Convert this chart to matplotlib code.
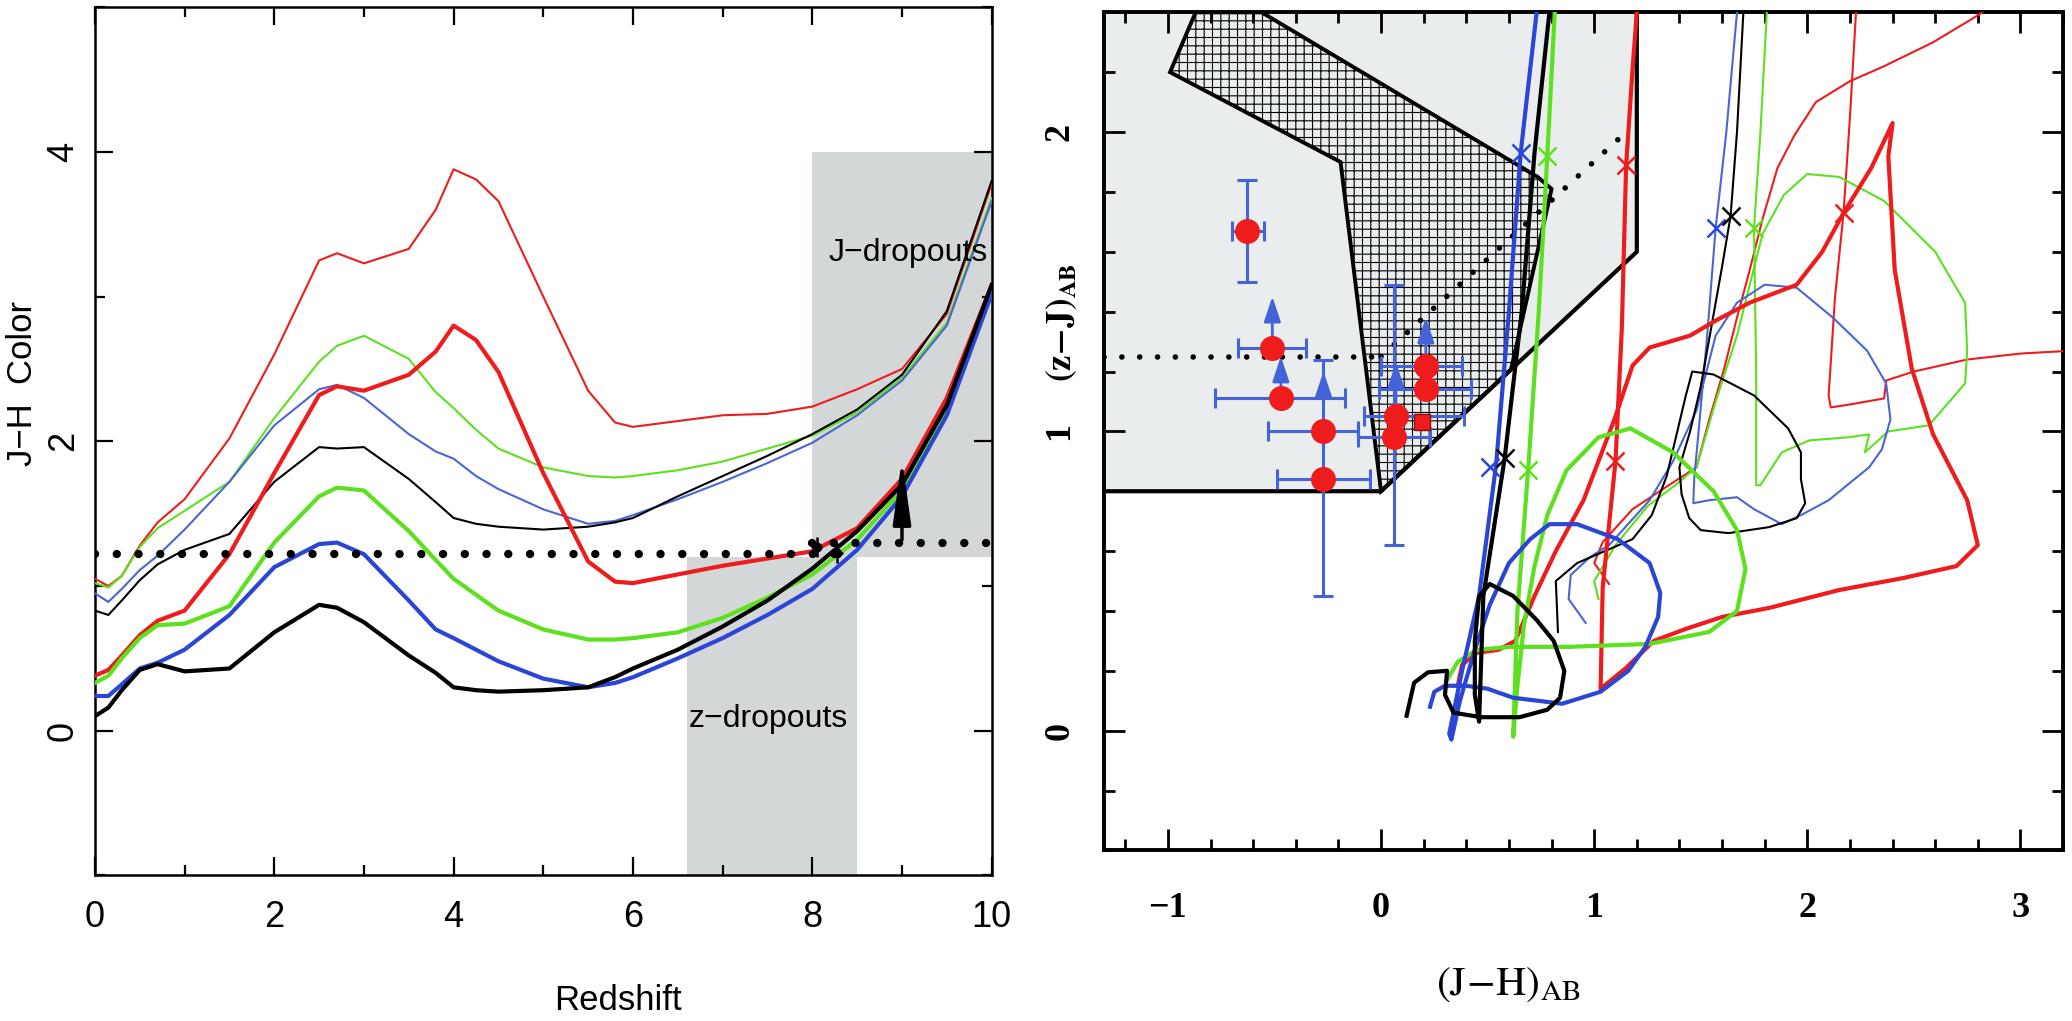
import numpy as np
import matplotlib
matplotlib.use('Agg')
import matplotlib.pyplot as plt
from matplotlib.patches import Polygon
from matplotlib.ticker import MultipleLocator

plt.rcParams['font.family'] = ['Liberation Sans Narrow', 'Liberation Sans', 'DejaVu Sans']
plt.rcParams['mathtext.fontset'] = 'stix'
plt.rcParams['hatch.linewidth'] = 0.8

RED = '#ee1c1c'
GREEN = '#5de01e'
BLUE = '#2b45d6'
BLUE_THIN = '#4a66d4'
ERR_BLUE = '#4563d8'
GRAY_L = '#d3d7d7'
GRAY_R = '#e9eded'

# ---------------- left panel: colour vs redshift ----------------
redshift = [0, 0.15, 0.3, 0.5, 0.7, 1.0, 1.5, 2.0, 2.5, 2.7, 3.0, 3.5, 3.8, 4.0,
            4.25, 4.5, 5.0, 5.5, 5.8, 6.0, 6.5, 7.0, 7.5, 8.0, 8.5, 9.0, 9.5, 10.0]
thin_red = [1.05, 1.00, 1.07, 1.28, 1.44, 1.60, 2.02, 2.60, 3.25, 3.30, 3.23, 3.33, 3.60, 3.88,
            3.81, 3.66, 3.00, 2.35, 2.13, 2.10, 2.14, 2.18, 2.19, 2.24, 2.36, 2.50, 2.88, 3.78]
thin_green = [1.02, 0.99, 1.07, 1.27, 1.40, 1.52, 1.72, 2.16, 2.55, 2.66, 2.73, 2.57, 2.34, 2.23,
              2.08, 1.95, 1.82, 1.76, 1.75, 1.76, 1.80, 1.86, 1.95, 2.04, 2.20, 2.44, 2.82, 3.68]
thin_blue = [0.95, 0.89, 0.98, 1.11, 1.21, 1.39, 1.72, 2.11, 2.36, 2.39, 2.30, 2.05, 1.93, 1.88,
             1.76, 1.67, 1.53, 1.43, 1.45, 1.49, 1.60, 1.72, 1.85, 1.99, 2.18, 2.42, 2.80, 3.66]
thin_black = [0.83, 0.80, 0.90, 1.04, 1.15, 1.25, 1.36, 1.72, 1.96, 1.95, 1.96, 1.74, 1.58, 1.47,
              1.43, 1.41, 1.39, 1.41, 1.44, 1.47, 1.62, 1.76, 1.90, 2.05, 2.22, 2.46, 2.90, 3.80]
thick_red = [0.38, 0.42, 0.52, 0.66, 0.76, 0.83, 1.22, 1.78, 2.32, 2.38, 2.35, 2.46, 2.62, 2.80,
             2.70, 2.48, 1.78, 1.17, 1.03, 1.02, 1.08, 1.14, 1.19, 1.24, 1.40, 1.74, 2.30, 3.08]
thick_green = [0.33, 0.38, 0.50, 0.64, 0.73, 0.74, 0.86, 1.30, 1.62, 1.68, 1.66, 1.38, 1.18, 1.05,
               0.94, 0.83, 0.70, 0.63, 0.63, 0.64, 0.68, 0.78, 0.92, 1.08, 1.32, 1.66, 2.20, 3.05]
thick_blue = [0.24, 0.24, 0.32, 0.43, 0.47, 0.56, 0.80, 1.13, 1.29, 1.30, 1.22, 0.90, 0.70, 0.64,
              0.56, 0.48, 0.36, 0.30, 0.33, 0.37, 0.50, 0.64, 0.80, 0.98, 1.25, 1.62, 2.18, 3.02]
thick_black = [0.10, 0.16, 0.28, 0.42, 0.46, 0.41, 0.43, 0.68, 0.87, 0.85, 0.75, 0.52, 0.40, 0.30,
               0.28, 0.27, 0.28, 0.30, 0.37, 0.43, 0.56, 0.72, 0.90, 1.12, 1.38, 1.70, 2.25, 3.08]

z_cut, z_cut_range = 1.22, (0.0, 8.3)
j_cut, j_cut_range = 1.3, (8.0, 10.0)
z_window = (6.6, 8.5, -1.0, 1.2)
j_window = (8.0, 10.0, 1.2, 4.0)
limit_z, limit_lo, limit_dot, limit_hi = 9.0, 1.3, 1.52, 1.9
cand_z, cand_c = [8.05, 8.28], [1.27, 1.23]

# ---------------- right panel: colour-colour diagram ----------------
sel_region = [(-1.3, 0.8), (0.0, 0.8), (1.2, 1.6), (1.2, 2.4), (-1.3, 2.4)]
hatch_region = [(-0.87, 2.4), (-0.56, 2.4), (0.735, 1.85), (0.80, 1.81), (0.61, 1.207),
                (0.0, 0.8), (-0.19, 1.90), (-0.99, 2.20)]
cut_h = ([-1.3, 0.0], [1.25, 1.25])
cut_d = ([0.0, 1.15], [1.25, 2.0])

tk_red_x = [0.36, 0.38, 0.45, 0.55, 0.63, 0.72, 0.82, 0.95, 1.02, 1.10, 1.18, 1.26, 1.45, 1.57,
            1.73, 1.95, 2.07, 2.17, 2.30, 2.40, 2.38, 2.41, 2.49, 2.59, 2.75, 2.80, 2.70, 2.45,
            2.15, 1.82, 1.60, 1.43, 1.28, 1.15, 1.03, 1.04, 1.10, 1.13, 1.15, 1.18, 1.20]
tk_red_y = [0.15, 0.22, 0.26, 0.27, 0.30, 0.45, 0.60, 0.77, 0.90, 1.05, 1.22, 1.28, 1.32, 1.37,
            1.43, 1.49, 1.60, 1.73, 1.88, 2.03, 1.92, 1.54, 1.21, 0.99, 0.77, 0.62, 0.55, 0.51,
            0.47, 0.41, 0.38, 0.34, 0.30, 0.21, 0.14, 0.48, 0.90, 1.35, 1.89, 2.21, 2.40]
tn_red_x = [1.07, 1.00, 1.04, 1.18, 1.35, 1.48, 1.54, 1.61, 1.67, 1.73, 1.79, 1.86, 1.94, 2.04,
            2.20, 2.36, 2.59, 2.80, 2.86]
tn_red_y = [0.49, 0.56, 0.63, 0.74, 0.82, 0.88, 1.04, 1.21, 1.38, 1.54, 1.71, 1.88, 1.99, 2.10,
            2.17, 2.22, 2.30, 2.39, 2.42]
tn_red2_x = [3.25, 3.00, 2.75, 2.50, 2.37, 2.36, 2.20, 2.11, 2.10, 2.13, 2.17, 2.20, 2.23]
tn_red2_y = [1.27, 1.26, 1.24, 1.20, 1.17, 1.11, 1.09, 1.08, 1.12, 1.45, 1.73, 2.05, 2.42]
tk_grn_x = [0.31, 0.36, 0.45, 0.60, 0.88, 1.26, 1.54, 1.67, 1.71, 1.67, 1.56, 1.37, 1.17, 1.02,
            0.87, 0.78, 0.72, 0.67, 0.64, 0.62, 0.64, 0.69, 0.74, 0.78, 0.815]
tk_grn_y = [0.17, 0.23, 0.27, 0.28, 0.28, 0.29, 0.33, 0.40, 0.54, 0.67, 0.80, 0.93, 1.01, 0.98,
            0.87, 0.72, 0.55, 0.35, 0.15, -0.02, 0.40, 0.87, 1.40, 1.92, 2.40]
tn_grn_x = [1.02, 1.00, 1.10, 1.25, 1.38, 1.48, 1.57, 1.67, 1.73, 1.79, 1.89, 2.00, 2.15, 2.36,
            2.60, 2.74, 2.75, 2.74, 2.57, 2.38, 2.27, 2.29, 2.19, 2.01, 1.88, 1.78, 1.76, 1.76,
            1.75, 1.78, 1.81]
tn_grn_y = [0.44, 0.50, 0.62, 0.75, 0.82, 0.88, 1.10, 1.32, 1.49, 1.66, 1.79, 1.86, 1.85, 1.77,
            1.60, 1.43, 1.27, 1.16, 1.02, 1.00, 0.93, 0.99, 0.98, 0.97, 0.93, 0.82, 0.82, 1.20,
            1.68, 2.00, 2.40]
tk_blu_x = [0.23, 0.25, 0.30, 0.40, 0.50, 0.62, 0.85, 1.03, 1.16, 1.24, 1.30, 1.31, 1.26, 1.11,
            0.92, 0.79, 0.70, 0.60, 0.51, 0.44, 0.37, 0.33, 0.32, 0.38, 0.46, 0.54, 0.60, 0.655,
            0.73]
tk_blu_y = [0.08, 0.13, 0.15, 0.15, 0.14, 0.11, 0.09, 0.13, 0.20, 0.28, 0.38, 0.46, 0.56, 0.64,
            0.69, 0.69, 0.64, 0.56, 0.42, 0.27, 0.10, -0.03, -0.01, 0.20, 0.45, 0.89, 1.40, 1.93,
            2.40]
tn_blu_x = [0.96, 0.88, 0.89, 0.98, 1.07, 1.26, 1.37, 1.48, 1.57, 1.67, 1.80, 1.95, 2.12, 2.28,
            2.37, 2.39, 2.35, 2.29, 2.10, 1.97, 1.88, 1.75, 1.67, 1.54, 1.465, 1.47, 1.49, 1.53,
            1.57, 1.62, 1.67]
tn_blu_y = [0.36, 0.44, 0.52, 0.58, 0.62, 0.77, 0.90, 1.07, 1.32, 1.43, 1.49, 1.48, 1.38, 1.27,
            1.16, 1.04, 0.94, 0.88, 0.77, 0.72, 0.69, 0.74, 0.78, 0.77, 0.76, 0.85, 1.00, 1.32,
            1.68, 2.00, 2.40]
tk_blk_x = [0.12, 0.155, 0.22, 0.31, 0.30, 0.34, 0.47, 0.65, 0.78, 0.84, 0.86, 0.81, 0.73, 0.62,
            0.51, 0.46, 0.44, 0.44, 0.46, 0.48, 0.58, 0.66, 0.72, 0.79]
tk_blk_y = [0.05, 0.16, 0.195, 0.20, 0.12, 0.06, 0.045, 0.045, 0.07, 0.11, 0.20, 0.30, 0.37, 0.45,
            0.49, 0.45, 0.30, 0.12, 0.03, 0.45, 0.91, 1.40, 1.93, 2.40]
tn_blk_x = [0.83, 0.82, 0.92, 1.05, 1.18, 1.27, 1.34, 1.39, 1.43, 1.46, 1.56, 1.75, 1.91, 1.97,
            1.97, 1.99, 1.95, 1.82, 1.63, 1.50, 1.446, 1.41, 1.40, 1.45, 1.50, 1.55, 1.60, 1.64,
            1.67, 1.70]
tn_blk_y = [0.33, 0.50, 0.56, 0.60, 0.64, 0.72, 0.85, 1.00, 1.12, 1.20, 1.19, 1.12, 1.01, 0.93,
            0.84, 0.76, 0.71, 0.68, 0.66, 0.67, 0.71, 0.79, 0.88, 1.00, 1.15, 1.35, 1.55, 1.72,
            2.00, 2.40]

star_x = [0.655, 0.51, 1.57, 0.78, 0.69, 1.75, 0.58, 1.64, 1.15, 1.10, 2.17]
star_y = [1.93, 0.88, 1.68, 1.92, 0.87, 1.68, 0.91, 1.72, 1.89, 0.90, 1.73]
star_c = [BLUE, BLUE, BLUE, GREEN, GREEN, GREEN, 'k', 'k', RED, RED, RED]

# observed sources
pt_x = [-0.63, -0.51, -0.47, -0.27, -0.27, 0.06, 0.07, 0.21, 0.21]
pt_y = [1.67, 1.28, 1.11, 1.00, 0.84, 0.98, 1.05, 1.14, 1.22]
pt_xlo = [-0.70, -0.67, -0.78, -0.53, -0.49, -0.11, -0.08, -0.01, 0.00]
pt_xhi = [-0.55, -0.35, -0.17, -0.11, -0.05, 0.23, 0.39, 0.42, 0.38]
pt_ylo = [1.50, np.nan, np.nan, np.nan, 0.45, 0.62, np.nan, np.nan, np.nan]
pt_yhi = [1.84, np.nan, np.nan, np.nan, 1.24, 1.49, np.nan, np.nan, np.nan]
pt_lim = [np.nan, 1.46, 1.26, 1.21, np.nan, np.nan, 1.24, np.nan, 1.39]
sq_x, sq_y = [0.19], [1.03]

# ================= figure =================
fig = plt.figure(figsize=(20.72, 10.21), dpi=100)
ax1 = fig.add_axes([0.0458, 0.1426, 0.4328, 0.8503])
ax2 = fig.add_axes([0.5328, 0.1671, 0.4629, 0.8208])

# ---- left ----
x0, x1, y0, y1 = z_window
ax1.fill_between([x0, x1], y0, y1, color=GRAY_L, lw=0, zorder=0)
x0, x1, y0, y1 = j_window
ax1.fill_between([x0, x1], y0, y1, color=GRAY_L, lw=0, zorder=0)

thin = [(thin_red, RED), (thin_green, GREEN), (thin_blue, BLUE_THIN), (thin_black, 'k')]
thick = [(thick_red, RED), (thick_green, GREEN), (thick_blue, BLUE), (thick_black, 'k')]
for vals, c in thin:
    ax1.plot(redshift, vals, color=c, lw=1.5, zorder=3)
for vals, c in thick:
    ax1.plot(redshift, vals, color=c, lw=3.0, zorder=4)

ax1.plot(z_cut_range, [z_cut, z_cut], color='k', lw=6, ls=(0, (0.01, 2.6)),
         dash_capstyle='round', zorder=5)
ax1.plot(j_cut_range, [j_cut, j_cut], color='k', lw=6, ls=(0, (0.01, 2.6)),
         dash_capstyle='round', zorder=5)
ax1.annotate('', xy=(limit_z, limit_hi), xytext=(limit_z, limit_lo),
             arrowprops=dict(arrowstyle='-|>,head_length=1.8,head_width=0.25',
                             color='k', lw=2.5, mutation_scale=22), zorder=6)
ax1.plot([limit_z], [limit_dot], 'o', color='k', ms=7, zorder=6)
ax1.errorbar(cand_z, cand_c, xerr=0.06, yerr=0.07, fmt='o', color='k', ms=6,
             lw=1.8, zorder=6)

ax1.text(8.18, 3.30, 'J\u2212dropouts', fontsize=23, va='center', ha='left', zorder=7)
ax1.text(6.62, 0.08, 'z\u2212dropouts', fontsize=23, va='center', ha='left', zorder=7)

ax1.set_xlim(0, 10)
ax1.set_ylim(-1, 5)
ax1.set_xticks([0, 2, 4, 6, 8, 10])
ax1.set_xticklabels(['0', '2', '4', '6', '8', '10'])
ax1.set_yticks([0, 2, 4])
ax1.set_yticklabels(['0', '2', '4'], rotation=90, va='center')
ax1.xaxis.set_minor_locator(MultipleLocator(1))
ax1.yaxis.set_minor_locator(MultipleLocator(1))
ax1.tick_params(which='both', direction='in', top=True, right=True, width=1.6, labelsize=26)
ax1.tick_params(which='major', length=13)
ax1.tick_params(which='minor', length=7)
ax1.tick_params(axis='x', pad=18)
ax1.tick_params(axis='y', pad=10)
for s in ax1.spines.values():
    s.set_linewidth(1.8)
ax1.set_xlabel('Redshift', fontsize=25, va='center')
ax1.xaxis.set_label_coords(0.583, -0.144)
ax1.set_ylabel('J\u2212H  Color', fontsize=25, va='center')
ax1.yaxis.set_label_coords(-0.081, 0.567)

# ---- right ----
ax2.add_patch(Polygon(sel_region, closed=True, facecolor=GRAY_R, edgecolor='none', zorder=0))
ax2.add_patch(Polygon(hatch_region, closed=True, facecolor=GRAY_R, edgecolor='k',
                      hatch='++', lw=2.8, zorder=1))
sx = [p[0] for p in sel_region[:4]]
sy = [p[1] for p in sel_region[:4]]
ax2.plot(sx, sy, color='k', lw=3, zorder=2)
ax2.plot(cut_h[0], cut_h[1], color='k', lw=4, ls=(0, (0.01, 3.2)), dash_capstyle='round', zorder=2)
ax2.plot(cut_d[0], cut_d[1], color='k', lw=4, ls=(0, (0.01, 3.2)), dash_capstyle='round', zorder=2)

for tx, ty, c in [(tn_red_x, tn_red_y, RED), (tn_red2_x, tn_red2_y, RED),
                  (tn_grn_x, tn_grn_y, GREEN), (tn_blu_x, tn_blu_y, BLUE_THIN),
                  (tn_blk_x, tn_blk_y, 'k')]:
    ax2.plot(tx, ty, color=c, lw=1.5, zorder=3)
for tx, ty, c in [(tk_red_x, tk_red_y, RED), (tk_grn_x, tk_grn_y, GREEN),
                  (tk_blu_x, tk_blu_y, BLUE), (tk_blk_x, tk_blk_y, 'k')]:
    ax2.plot(tx, ty, color=c, lw=3.0, zorder=3)
for sxx, syy, c in zip(star_x, star_y, star_c):
    ax2.plot([sxx], [syy], marker='x', color=c, ms=13, mew=1.8, zorder=4)

for i in range(len(pt_x)):
    xe = [[pt_x[i] - pt_xlo[i]], [pt_xhi[i] - pt_x[i]]]
    if np.isnan(pt_ylo[i]):
        ax2.errorbar([pt_x[i]], [pt_y[i]], xerr=xe, fmt='none', ecolor=ERR_BLUE,
                     elinewidth=2.2, capsize=7, capthick=2.2, zorder=5)
    else:
        ye = [[pt_y[i] - pt_ylo[i]], [pt_yhi[i] - pt_y[i]]]
        ax2.errorbar([pt_x[i]], [pt_y[i]], xerr=xe, yerr=ye, fmt='none', ecolor=ERR_BLUE,
                     elinewidth=2.2, capsize=7, capthick=2.2, zorder=5)
    if not np.isnan(pt_lim[i]):
        ax2.annotate('', xy=(pt_x[i], pt_lim[i]), xytext=(pt_x[i], pt_y[i]),
                     arrowprops=dict(arrowstyle='-|>,head_length=0.9,head_width=0.3',
                                     color=ERR_BLUE, lw=2.0, mutation_scale=17), zorder=5)
ax2.plot(pt_x, pt_y, 'o', color=RED, ms=17, mec=RED, zorder=6, ls='none')
ax2.plot(sq_x, sq_y, 's', color=RED, ms=12, mec='#8a1010', zorder=6, ls='none')

ax2.set_xlim(-1.3, 3.2)
ax2.set_ylim(-0.4, 2.4)
ax2.set_xticks([-1, 0, 1, 2, 3])
ax2.set_xticklabels(['\u22121', '0', '1', '2', '3'], fontfamily='Liberation Serif',
                    fontweight='bold', fontsize=26)
ax2.set_yticks([0, 1, 2])
ax2.set_yticklabels(['0', '1', '2'], fontfamily='Liberation Serif', fontweight='bold',
                    fontsize=26, rotation=90, va='center')
ax2.xaxis.set_minor_locator(MultipleLocator(0.2))
ax2.yaxis.set_minor_locator(MultipleLocator(0.2))
ax2.tick_params(which='both', direction='in', top=True, right=True, width=2.0)
ax2.tick_params(which='major', length=15)
ax2.tick_params(which='minor', length=8)
ax2.tick_params(axis='x', pad=30)
ax2.tick_params(axis='y', pad=20)
for s in ax2.spines.values():
    s.set_linewidth(2.8)
ax2.set_xlabel(r'$\mathrm{(J\!-\!H)_{AB}}$', fontsize=30, va='center')
ax2.xaxis.set_label_coords(0.422, -0.160)
ax2.set_ylabel(r'$\mathbf{(z\!-\!J)_{AB}}$', fontsize=25, va='center')
ax2.yaxis.set_label_coords(-0.044, 0.63)

fig.savefig('out.png', dpi=100)
